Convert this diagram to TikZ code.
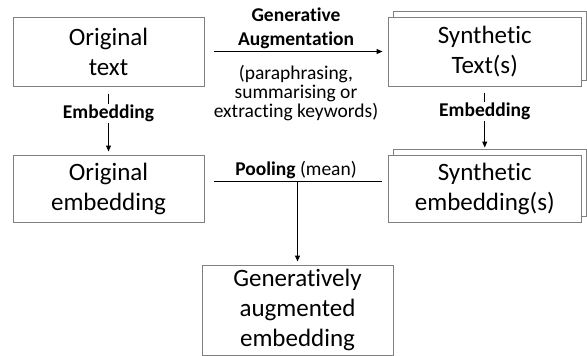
\documentclass[tikz,border=0pt]{standalone}
\usepackage{fontspec}
\setmainfont{Carlito}[Ligatures=NoCommon]
\usetikzlibrary{arrows.meta, shadows}
\definecolor{boxgray}{RGB}{128,128,128}

\tikzset{
  box/.style={draw=boxgray, line width=1pt, fill=white, minimum width=191pt, minimum height=69pt,
    align=center, inner sep=0pt, font=\fontsize{25}{30}\selectfont},
  stackbox/.style={box, minimum width=193.5pt, copy shadow={shadow xshift=5pt, shadow yshift=6pt, draw=boxgray, line width=1pt, fill=white}},
  lbl/.style={align=center, inner sep=1pt, font=\fontsize{19.5}{19}\selectfont},
  blbl/.style={align=center, inner sep=1pt, font=\fontsize{19.5}{24}\selectfont\bfseries},
  arr/.style={-{Triangle[length=6pt,width=5pt]}, line width=1pt},
}

\begin{document}
\begin{tikzpicture}[x=1pt, y=-1pt]
            \useasboundingbox (0,0) rectangle (587,356);

            \node[box] (OT) at (108.5,51.5) {Original\\text};
            \node[stackbox] (ST) at (484.75,51.5) {Synthetic\\Text(s)};
            \node[box, minimum height=67pt] (OE) at (108.5,188.5) {Original\\embedding};
            \node[stackbox, minimum height=67pt] (SE) at (484.75,188.5) {Synthetic\\embedding(s)};
            \node[box, minimum height=90pt] (GA) at (297.5,310) {Generatively\\augmented\\embedding};

            \draw[arr, shorten <=9pt, shorten >=5pt] (OT) -- (ST)
                node[midway, above=1pt, blbl] {Generative\\Augmentation}
                node[midway, below=12pt, lbl] {(paraphrasing,\\summarising or\\extracting keywords)};
            \draw[arr, shorten <=7pt, shorten >=3pt] (OT) -- (OE) node[pos=0.4, fill=white, blbl] {Embedding};
            \draw[arr, shorten <=6pt, shorten >=7pt] (ST) -- (SE) node[pos=0.37, fill=white, blbl] {Embedding};

            \coordinate (pool) at ([yshift=7pt]OE.east);
            \draw[line width=1pt, shorten <=9pt, shorten >=6pt] (pool) -- (pool -| SE.west)
                node[midway, above=1pt, lbl] {\textbf{Pooling} (mean)};
            \draw[arr, shorten >=3pt] (pool -| GA.north) -- (GA.north);
        \end{tikzpicture}
\end{document}
